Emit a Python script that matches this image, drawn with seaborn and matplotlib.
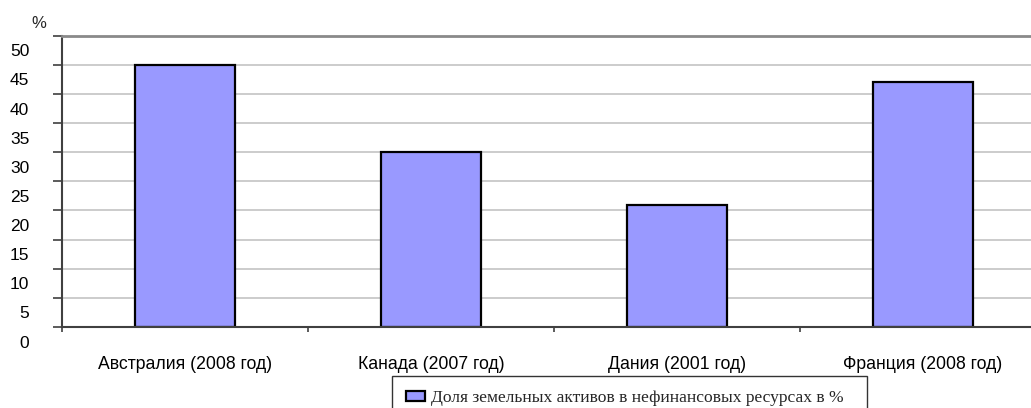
import matplotlib
matplotlib.use('Agg')
import matplotlib.pyplot as plt
import matplotlib.transforms as mtransforms
from matplotlib.patches import Patch
import seaborn as sns
import pandas as pd

categories = ['Австралия (2008 год)', 'Канада (2007 год)', 'Дания (2001 год)', 'Франция (2008 год)']
values = [45, 30, 21, 42]
y_ticks = [0, 5, 10, 15, 20, 25, 30, 35, 40, 45, 50]
y_tick_labels = ['0', '5', '10', '15', '20', '25', '30', '35', '40', '45', '50']
series_name = 'Доля земельных активов в нефинансовых ресурсах в %'
unit_label = '%'

sns.set_theme(style='white')
plt.rcParams['font.family'] = ['Liberation Sans', 'DejaVu Sans']

W, H = 1031, 408
fig = plt.figure(figsize=(W / 100, H / 100), dpi=100)
ax = fig.add_axes([62 / W, 81 / H, 984 / W, 291.3 / H])

df = pd.DataFrame({'cat': categories, 'val': values})
sns.barplot(data=df, x='cat', y='val', color='#9999ff', saturation=1,
            width=0.41, edgecolor='black', linewidth=1.6, ax=ax)

ax.set_xlim(-0.5, 3.5)
ax.set_ylim(0, 50)
ax.set_xlabel('')
ax.set_ylabel('')

# grid
ax.set_axisbelow(True)
ax.yaxis.grid(True, color='#c4c4c4', linewidth=1.2)
ax.xaxis.grid(False)

for s in ['left', 'bottom']:
    ax.spines[s].set_color('#404040')
    ax.spines[s].set_linewidth(1.5)
ax.spines['top'].set_color('#8a8a8a')
ax.spines['top'].set_linewidth(2)
ax.spines['right'].set_visible(False)

# y ticks
ax.set_yticks(y_ticks, y_tick_labels)
ax.tick_params(axis='y', which='major', direction='out', left=True, length=6.5, width=1.2,
               color='#404040', pad=17, labelsize=12.5, labelcolor='black')
offset = mtransforms.ScaledTranslation(0, -14.6 / 100, fig.dpi_scale_trans)
for lab in ax.get_yticklabels():
    lab.set_transform(lab.get_transform() + offset)

# x ticks
ax.set_xticks(range(len(categories)), categories)
ax.set_xticks([i - 0.5 for i in range(len(categories) + 1)], minor=True)
ax.tick_params(axis='x', which='major', length=0, pad=21, labelsize=12.7, labelcolor='black')
ax.tick_params(axis='x', which='minor', direction='out', bottom=True, length=3.8, width=1.2,
               color='#404040')

fig.text(39 / W, 1 - 23.5 / H, unit_label, ha='center', va='center', fontsize=12)

leg = fig.legend(handles=[Patch(facecolor='#9999ff', edgecolor='black', linewidth=1.6, label=series_name)],
                 loc='upper left', bbox_to_anchor=(392 / W, 1 - 376 / H, 475 / W, 0), mode='expand',
                 prop={'family': 'Liberation Serif', 'size': 12.6}, frameon=True, fancybox=False,
                 borderpad=0.8, handlelength=1.1, handleheight=0.55, handletextpad=0.35,
                 borderaxespad=0)
leg.get_frame().set_edgecolor('black')
leg.get_frame().set_linewidth(1)

fig.savefig('out.png', dpi=100)
